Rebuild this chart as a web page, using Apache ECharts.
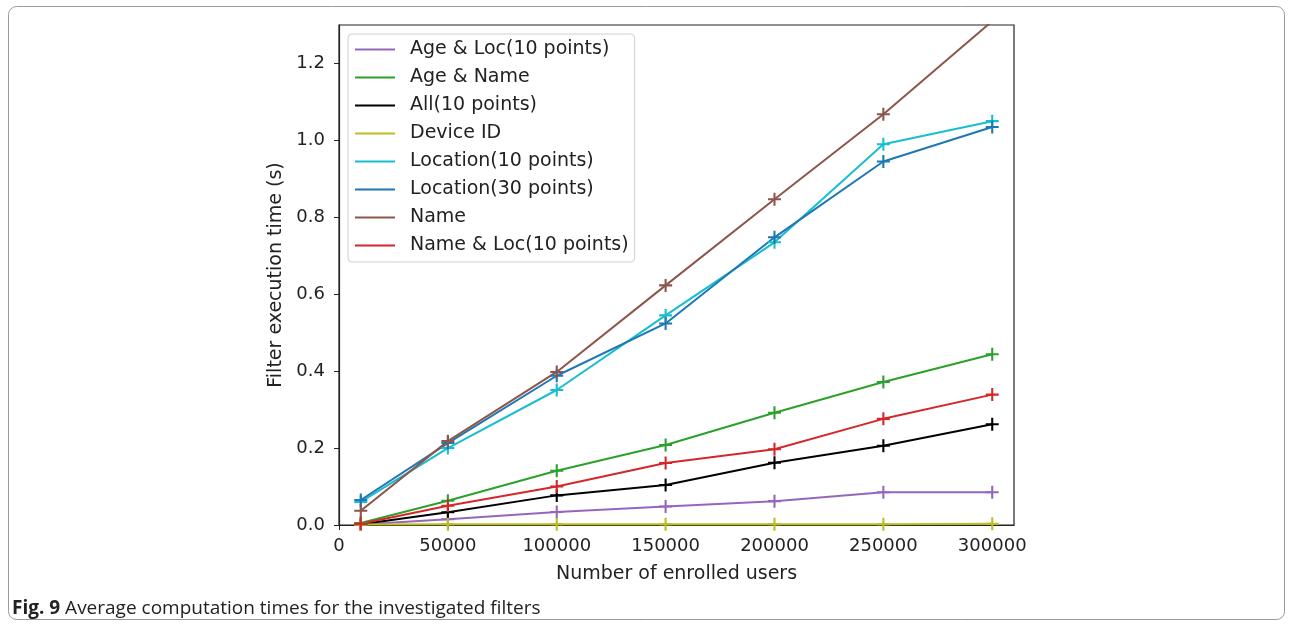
<!DOCTYPE html>
<html>
<head>
<meta charset="utf-8">
<script src="https://cdn.jsdelivr.net/npm/echarts@6/dist/echarts.min.js"></script>
<style>
  html, body { margin: 0; padding: 0; background: #fff; }
  #chart { width: 1292px; height: 630px; }
</style>
</head>
<body>
<div id="chart"></div>
<script>
// number of enrolled users
var users = [10000, 50000, 100000, 150000, 200000, 250000, 300000];

// filter execution time (s)
var ageLoc   = [0.001, 0.015, 0.034, 0.048, 0.062, 0.085, 0.085];
var ageName  = [0.005, 0.063, 0.141, 0.208, 0.292, 0.372, 0.444];
var allTen   = [0.002, 0.033, 0.077, 0.104, 0.162, 0.206, 0.262];
var deviceId = [0.001, 0.002, 0.002, 0.002, 0.002, 0.002, 0.003];
var loc10    = [0.060, 0.200, 0.351, 0.545, 0.735, 0.990, 1.050];
var loc30    = [0.065, 0.213, 0.388, 0.524, 0.748, 0.945, 1.035];
var nameOnly = [0.037, 0.218, 0.398, 0.623, 0.847, 1.068, 1.310];
var nameLoc  = [0.003, 0.050, 0.100, 0.161, 0.197, 0.276, 0.339];

var xTicks = [0, 50000, 100000, 150000, 200000, 250000, 300000];
var yTicks = [0, 0.2, 0.4, 0.6, 0.8, 1.0, 1.2];

var seriesDefs = [
  { name: 'Age & Loc(10 points)', color: '#9467bd', data: ageLoc },
  { name: 'Age & Name', color: '#2ca02c', data: ageName },
  { name: 'All(10 points)', color: '#000000', data: allTen },
  { name: 'Device ID', color: '#bcbd22', data: deviceId },
  { name: 'Location(10 points)', color: '#17becf', data: loc10 },
  { name: 'Location(30 points)', color: '#1f77b4', data: loc30 },
  { name: 'Name', color: '#8c564b', data: nameOnly },
  { name: 'Name & Loc(10 points)', color: '#d62728', data: nameLoc }
];

var plus = 'path://M4.2,0H5.8V4.2H10V5.8H5.8V10H4.2V5.8H0V4.2H4.2Z';
var font = '"DejaVu Sans"';

var chart = echarts.init(document.getElementById('chart'));

var series = seriesDefs.map(function (s) {
  return {
    name: s.name,
    type: 'line',
    data: users.map(function (u, i) { return [u, s.data[i]]; }),
    symbol: plus,
    symbolSize: 13,
    showAllSymbol: true,
    lineStyle: { color: s.color, width: 2 },
    itemStyle: { color: s.color },
    emphasis: { disabled: true },
    animation: false
  };
});

var option = {
  animation: false,
  textStyle: { fontFamily: font },
  grid: {
    left: 339, top: 25, right: 278, bottom: 105,
    show: true, borderColor: '#222', borderWidth: 1.2, backgroundColor: 'transparent'
  },
  legend: {
    orient: 'vertical',
    left: 348, top: 34,
    padding: [6, 6, 7, 7],
    itemWidth: 40,
    itemHeight: 2,
    itemGap: 9,
    icon: 'rect',
    backgroundColor: '#fff',
    borderColor: '#d0d0d0',
    borderWidth: 1,
    borderRadius: 4,
    textStyle: { fontFamily: font, fontSize: 19, color: '#222', lineHeight: 19, padding: [0, 0, 0, 10] },
    data: seriesDefs.map(function (s) { return { name: s.name, itemStyle: { color: s.color } }; })
  },
  xAxis: {
    type: 'value',
    min: 0, max: 310000,
    name: 'Number of enrolled users',
    nameLocation: 'middle',
    nameGap: 40,
    nameTextStyle: { fontFamily: font, fontSize: 19, color: '#222' },
    splitLine: { show: false },
    axisLine: { show: true, onZero: false, lineStyle: { color: '#222', width: 1.2 } },
    axisTick: { show: true, length: 5, customValues: xTicks, lineStyle: { color: '#222' } },
    axisLabel: {
      customValues: xTicks, fontFamily: font, fontSize: 18, color: '#222', margin: 12,
      formatter: function (v) { return String(v); }
    }
  },
  yAxis: {
    type: 'value',
    min: 0, max: 1.3,
    name: 'Filter execution time (s)',
    nameLocation: 'middle',
    nameGap: 51,
    nameTextStyle: { fontFamily: font, fontSize: 19, color: '#222' },
    splitLine: { show: false },
    axisLine: { show: true, onZero: false, lineStyle: { color: '#222', width: 1.2 } },
    axisTick: { show: true, length: 5, customValues: yTicks, lineStyle: { color: '#222' } },
    axisLabel: {
      customValues: yTicks, fontFamily: font, fontSize: 18, color: '#222', margin: 14,
      formatter: function (v) { return v.toFixed(1); }
    }
  },
  graphic: [
    {
      type: 'rect', left: 8, top: 6, z: -10,
      shape: { width: 1276, height: 613, r: 8 },
      style: { fill: '#fff', stroke: '#9a9a9a', lineWidth: 1 }
    },
    {
      type: 'text', left: 12, top: 599,
      style: {
        text: '{b|Fig. 9} Average computation times for the investigated filters',
        font: '19px "Open Sans"', fill: '#222',
        rich: { b: { fontFamily: 'Open Sans', fontWeight: 'bold', fontSize: 19, fill: '#222' } }
      }
    }
  ],
  series: series
};

chart.setOption(option);
</script>
</body>
</html>
